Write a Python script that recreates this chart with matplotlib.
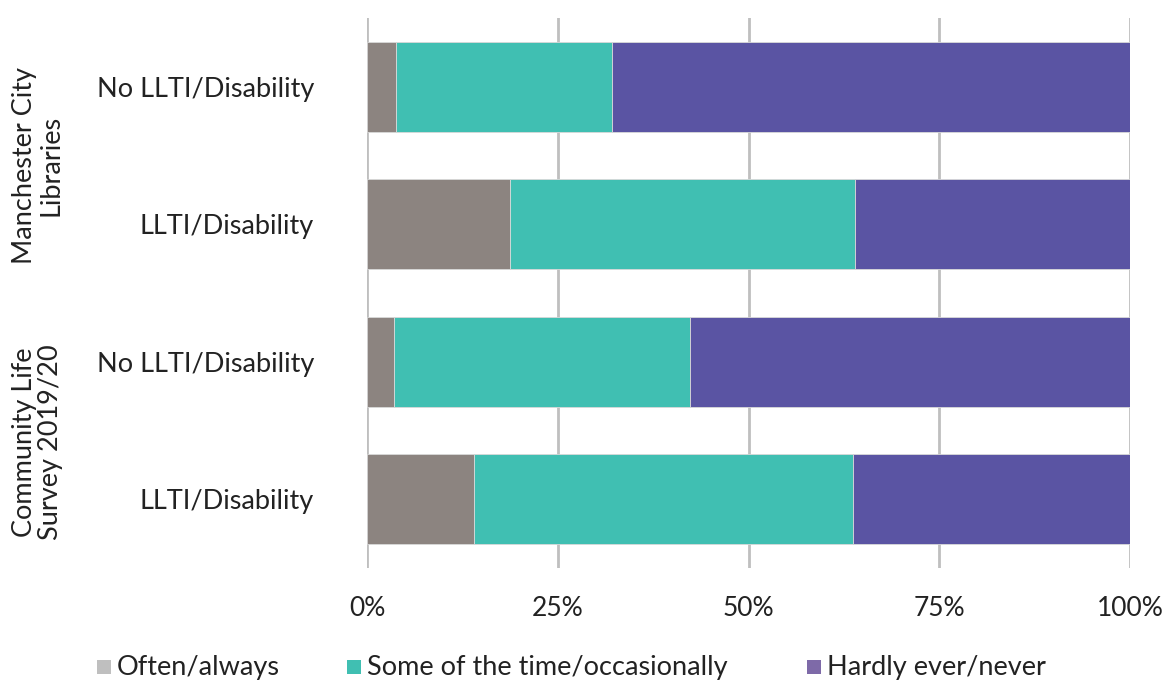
import matplotlib
matplotlib.use("Agg")
import matplotlib.pyplot as plt
from matplotlib.patches import Rectangle
import numpy as np

plt.rcParams['font.family'] = ['Lato', 'DejaVu Sans']

categories = ["No LLTI/Disability", "LLTI/Disability", "No LLTI/Disability", "LLTI/Disability"]
groups = ["Manchester City\nLibraries", "Community Life\nSurvey 2019/20"]
series_names = ["Often/always", "Some of the time/occasionally", "Hardly ever/never"]
often = [3.8, 18.7, 3.5, 14.0]
sometimes = [28.3, 45.3, 38.8, 49.7]
hardly = [67.9, 36.0, 57.7, 36.3]
xticks = [0, 25, 50, 75, 100]
xtick_labels = ["0%", "25%", "50%", "75%", "100%"]

bar_colors = ["#8c8480", "#40bfb2", "#5a54a3"]
legend_colors = ["#bfbfbf", "#40bfb2", "#7e6aa8"]
W, H = 1165, 682

fig = plt.figure(figsize=(W/100, H/100), dpi=100)
ax = fig.add_axes([367/W, 1-568/H, (1130-367)/W, (568-18)/H])

y = np.arange(len(categories))
left = np.zeros(len(categories))
for vals, col in zip([often, sometimes, hardly], bar_colors):
    ax.barh(y, vals, left=left, height=0.655, color=col, edgecolor="#d9d9d9", linewidth=0.6, zorder=3)
    left += np.array(vals)

ax.set_xlim(0, 100)
ax.set_ylim(3.5, -0.5)
ax.set_xticks(xticks)
ax.set_xticklabels(xtick_labels, fontsize=19, color="#222222")
ax.set_yticks(y)
ax.set_yticklabels(categories, fontsize=19.5, color="#222222")
ax.tick_params(axis='x', length=0, pad=20)
ax.tick_params(axis='y', length=0, pad=38)
ax.grid(axis='x', color="#bfbfbf", linewidth=2, zorder=0)
for s in ax.spines.values():
    s.set_visible(False)

fig.text(38/W, 1-165/H, groups[0], rotation=90, ha='center', va='center', fontsize=19.5, color="#222222", linespacing=1.05)
fig.text(38/W, 1-442/H, groups[1], rotation=90, ha='center', va='center', fontsize=19.5, color="#222222", linespacing=1.05)

# legend placed manually
marker_x = [97, 347, 807]
ly = 667
for mx, name, col in zip(marker_x, series_names, legend_colors):
    fig.patches.append(Rectangle((mx/W, (H-ly-7)/H), 14/W, 14/H, transform=fig.transFigure,
                                 facecolor=col, edgecolor='none'))
    fig.text((mx+20)/W, 1-ly/H, name, ha='left', va='center', fontsize=19.5, color="#222222")

fig.savefig("out.png", dpi=100)
